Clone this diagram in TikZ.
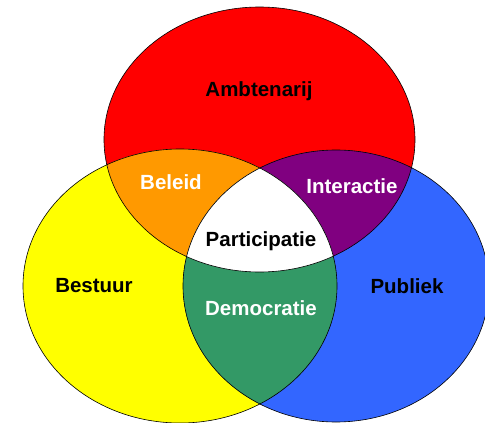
\documentclass[tikz,border=0pt]{standalone}
\usepackage{fontspec}
\setmainfont{Liberation Sans}
\usepackage{xcolor}
\usepackage{tikz}
\usetikzlibrary{positioning}

\definecolor{vred}{HTML}{FF0000}
\definecolor{vyellow}{HTML}{FFFF00}
\definecolor{vblue}{HTML}{3366FF}
\definecolor{vorange}{HTML}{FF9900}
\definecolor{vpurple}{HTML}{800080}
\definecolor{vgreen}{HTML}{339966}

\begin{document}
\begin{tikzpicture}[
    x=1pt, y=-1pt,
    label/.style={font=\fontsize{20.5}{24}\selectfont\bfseries, inner sep=0pt},
    darklabel/.style={label, text=black},
    lightlabel/.style={label, text=white},
    rim/.style={draw=black, line width=0.6pt}
]

\useasboundingbox (0,0) rectangle (485,423);

% Sets
\def\redset{(259.5,139.5) ellipse [x radius=155.5, y radius=132.5]}
\def\yellowset{(180,286) ellipse [x radius=157, y radius=137]}
\def\blueset{(336,286) ellipse [x radius=153, y radius=136]}

\fill[vred] \redset;
\fill[vyellow] \yellowset;
\fill[vblue] \blueset;

% Overlaps
\begin{scope}
  \clip \redset;
  \fill[vorange] \yellowset;
  \fill[vpurple] \blueset;
\end{scope}
\begin{scope}
  \clip \yellowset;
  \fill[vgreen] \blueset;
\end{scope}
\begin{scope}
  \clip \redset;
  \clip \yellowset;
  \fill[white] \blueset;
\end{scope}

% Outlines
\draw[rim] \redset;
\draw[rim] \yellowset;
\draw[rim] \blueset;

% Labels
\node[darklabel] (ambt) at (259,91) {Ambtenarij};
\node[darklabel] (bestuur) at (94,286) {Bestuur};
\node[darklabel] (publiek) at (407,286) {Publiek};
\node[lightlabel] (beleid) at (171,182) {Beleid};
\node[lightlabel] (interactie) at (352,186) {Interactie};
\node[darklabel] (partic) at (261,241) {Participatie};
\node[lightlabel] (democ) at (261,308) {Democratie};

\end{tikzpicture}
\end{document}
